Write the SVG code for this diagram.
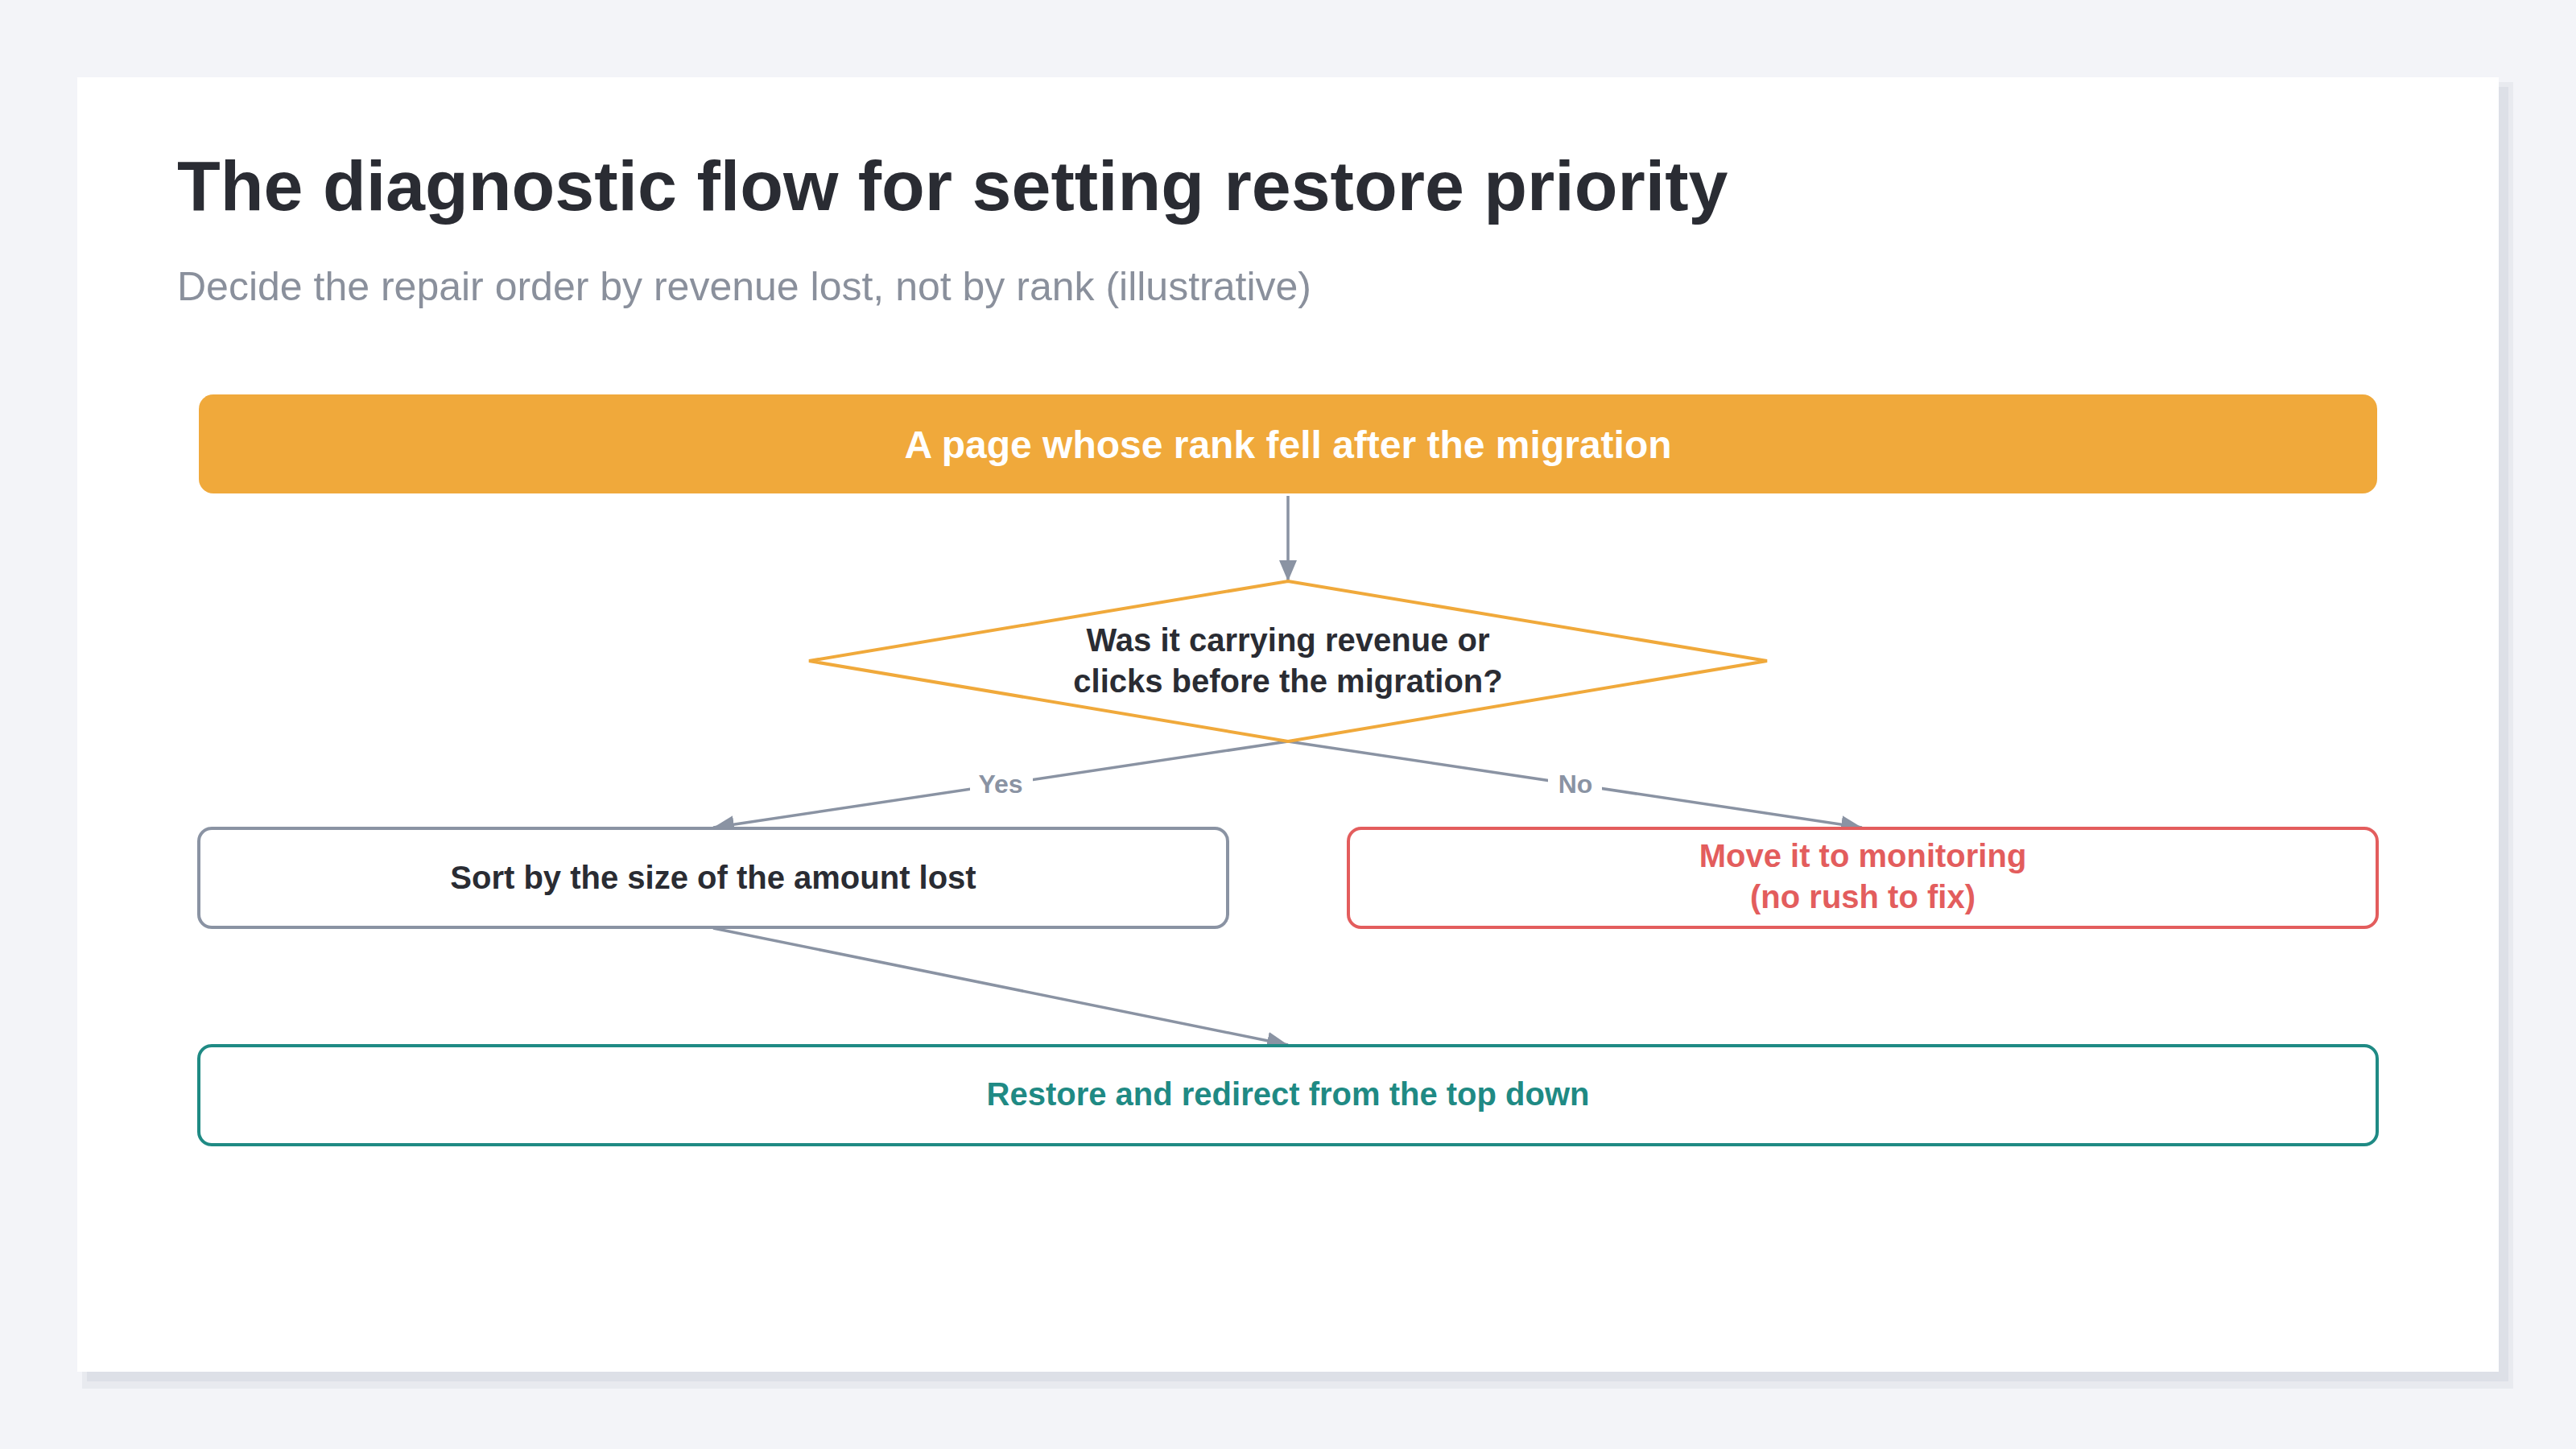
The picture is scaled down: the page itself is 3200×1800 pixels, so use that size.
<svg xmlns="http://www.w3.org/2000/svg" width="3200" height="1800" viewBox="0 0 3200 1800">
  <style>
    .title { font-family: "Liberation Sans", Arial, sans-serif; font-weight: 700; font-size: 88px; fill: #2a2c33; }
    .subtitle { font-family: "Liberation Sans", Arial, sans-serif; font-size: 50px; fill: #8a909c; }
    .lbl { font-family: "Liberation Sans", Arial, sans-serif; font-weight: 700; font-size: 40px; text-anchor: middle; }
    .edge-lbl { font-family: "Liberation Sans", Arial, sans-serif; font-weight: 700; font-size: 32px; fill: #8a93a3; text-anchor: middle; }
    .conn { fill: none; stroke: #8a93a3; stroke-width: 3.5; }
    .box { fill: #ffffff; stroke-width: 4; }
  </style>
  <defs>
    <marker id="arrow" markerUnits="userSpaceOnUse" markerWidth="26" markerHeight="22" viewBox="0 0 26 22" refX="26" refY="11" orient="auto">
      <path d="M0,0 L26,11 L0,22 z" fill="#8a93a3"/>
    </marker>
  </defs>

  <rect x="0" y="0" width="3200" height="1800" fill="#f3f4f8"/>
  <!-- card shadow -->
  <rect x="102" y="102" width="3020" height="1623" fill="#e8eaef"/>
  <rect x="108" y="108" width="3008" height="1608" fill="#dde0e7"/>
  <!-- card -->
  <rect x="96" y="96" width="3008" height="1608" fill="#ffffff"/>

  <text class="title" x="220" y="261">The diagnostic flow for setting restore priority</text>
  <text class="subtitle" x="220" y="373">Decide the repair order by revenue lost, not by rank (illustrative)</text>

  <g id="connectors">
    <line class="conn" x1="1600" y1="616" x2="1600" y2="722" marker-end="url(#arrow)"/>
    <line class="conn" x1="1600" y1="921" x2="886" y2="1028" marker-end="url(#arrow)"/>
    <line class="conn" x1="1600" y1="921" x2="2313" y2="1028" marker-end="url(#arrow)"/>
    <line class="conn" x1="886" y1="1153" x2="1600" y2="1298" marker-end="url(#arrow)"/>
    <g id="label-yes">
      <rect x="1205" y="954" width="78" height="40" fill="#ffffff"/>
      <text class="edge-lbl" x="1243" y="985">Yes</text>
    </g>
    <g id="label-no">
      <rect x="1923" y="954" width="67" height="40" fill="#ffffff"/>
      <text class="edge-lbl" x="1957" y="985">No</text>
    </g>
  </g>

  <g id="node-start">
    <rect x="247" y="490" width="2706" height="123" rx="18" ry="18" fill="#f0a93b"/>
    <text class="lbl" x="1600" y="569" font-size="48" style="font-size:48px" fill="#ffffff">A page whose rank fell after the migration</text>
  </g>

  <g id="node-decision">
    <polygon points="1600,722 2195,821 1600,921 1005,821" fill="#ffffff" stroke="#f0a93b" stroke-width="4"/>
    <text class="lbl" x="1600" y="809" fill="#2a2c33">Was it carrying revenue or</text>
    <text class="lbl" x="1600" y="860" fill="#2a2c33">clicks before the migration?</text>
  </g>

  <g id="node-sort">
    <rect class="box" x="247" y="1029" width="1278" height="123" rx="16" ry="16" stroke="#8a93a3"/>
    <text class="lbl" x="886" y="1104" fill="#2a2c33">Sort by the size of the amount lost</text>
  </g>

  <g id="node-monitor">
    <rect class="box" x="1675" y="1029" width="1278" height="123" rx="16" ry="16" stroke="#e35d5d"/>
    <text class="lbl" x="2314" y="1077" fill="#e35d5d">Move it to monitoring</text>
    <text class="lbl" x="2314" y="1128" fill="#e35d5d">(no rush to fix)</text>
  </g>

  <g id="node-restore">
    <rect class="box" x="247" y="1299" width="2706" height="123" rx="16" ry="16" stroke="#1f8a84"/>
    <text class="lbl" x="1600" y="1373" fill="#1f8a84">Restore and redirect from the top down</text>
  </g>
</svg>
